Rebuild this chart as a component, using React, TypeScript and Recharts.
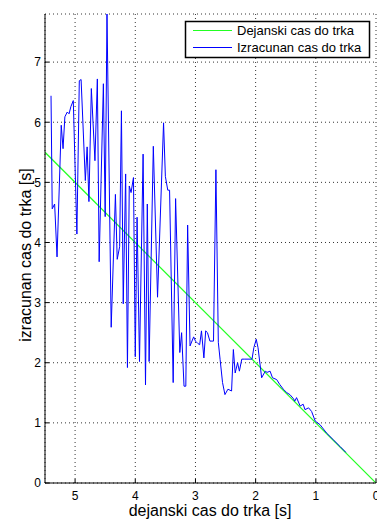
import React from 'react';
import { LineChart, Line, XAxis, YAxis, CartesianGrid, Customized } from 'recharts';

// Actual time to collision [s] (x) for the computed series
const actualTime: number[] = [
  5.40, 5.38, 5.34, 5.30, 5.23, 5.20, 5.17, 5.13, 5.10, 5.07,
  5.03, 4.97, 4.93, 4.90, 4.83, 4.80, 4.77, 4.73, 4.67, 4.63,
  4.60, 4.53, 4.50, 4.47, 4.40, 4.33, 4.30, 4.26, 4.23, 4.20,
  4.16, 4.13, 4.10, 4.07, 4.03, 4.00, 3.97, 3.93, 3.87, 3.83,
  3.80, 3.77, 3.70, 3.63, 3.53, 3.50, 3.46, 3.43, 3.37, 3.33,
  3.26, 3.23, 3.19, 3.16, 3.13, 3.09, 3.03, 3.00, 2.96, 2.93,
  2.90, 2.86, 2.83, 2.80, 2.76, 2.70, 2.66, 2.62, 2.59, 2.55,
  2.51, 2.46, 2.40, 2.37, 2.34, 2.30, 2.27, 2.23, 2.18, 2.06,
  2.03, 1.99, 1.96, 1.90, 1.84, 1.81, 1.76, 1.72, 1.65, 1.60,
  1.54, 1.48, 1.43, 1.37, 1.35, 1.32, 1.26, 1.21, 1.18, 1.12,
  1.07, 1.01, 0.93, 0.82, 0.71, 0.60, 0.50,
];

// Computed time to collision [s] (y)
const computedTime: number[] = [
  6.44, 4.56, 4.64, 3.76, 5.95, 5.56, 6.09, 6.17, 6.14, 6.26,
  6.36, 4.14, 6.69, 6.71, 5.03, 5.59, 4.68, 6.56, 5.36, 6.72,
  3.68, 6.64, 4.43, 7.80, 2.59, 4.80, 3.72, 3.93, 6.19, 2.98,
  5.14, 1.92, 4.94, 4.83, 5.08, 2.10, 4.42, 2.02, 5.47, 1.63,
  4.64, 2.02, 5.60, 3.09, 5.99, 5.10, 4.87, 4.87, 1.67, 4.73,
  2.17, 2.50, 1.61, 1.61, 4.29, 2.28, 2.43, 2.36, 2.32, 2.30,
  2.53, 2.08, 2.53, 2.50, 2.36, 2.36, 5.21, 2.34, 2.05, 1.67,
  1.47, 1.56, 1.53, 2.22, 1.83, 2.00, 1.86, 2.06, 2.06, 2.06,
  2.25, 2.39, 2.25, 1.75, 1.86, 1.84, 1.86, 1.75, 1.72, 1.64,
  1.56, 1.50, 1.47, 1.40, 1.36, 1.42, 1.28, 1.31, 1.22, 1.25,
  1.19, 1.03, 0.97, 0.83, 0.72, 0.61, 0.51,
];

// Actual time line (identity)
const idealX: number[] = [5.5, 0];
const idealY: number[] = [5.5, 0];

const xTicks: number[] = [0, 1, 2, 3, 4, 5];
const yTicks: number[] = [0, 1, 2, 3, 4, 5, 6, 7];

const seriesNames: string[] = ['Dejanski cas do trka', 'Izracunan cas do trka'];
const xLabel = 'dejanski cas do trka [s]';
const yLabel = 'izracunan cas do trka [s]';

const computedData = actualTime.map((x, i) => ({ x, y: computedTime[i] }));
const idealData = idealX.map((x, i) => ({ x, y: idealY[i] }));

const FONT = '"Liberation Sans", Arial, Helvetica, sans-serif';

const XTick = (props: any) => {
  const { x, y, payload } = props;
  return (
    <g>
      <line x1={x} y1={y} x2={x} y2={y - 4} stroke="#000" strokeWidth={1} />
      <text x={x} y={y + 16.5} textAnchor="middle" fontSize={12} fill="#000" fontFamily={FONT}>
        {payload.value}
      </text>
    </g>
  );
};

const YTick = (props: any) => {
  const { x, y, payload } = props;
  return (
    <g>
      <line x1={x} y1={y} x2={x + 4} y2={y} stroke="#000" strokeWidth={1} />
      <text x={x - 4} y={y + 4.3} textAnchor="end" fontSize={12} fill="#000" fontFamily={FONT}>
        {payload.value}
      </text>
    </g>
  );
};

const Extras = () => (
  <g fontFamily={FONT}>
    <text x={210} y={516} textAnchor="middle" fontSize={16} fill="#000">
      {xLabel}
    </text>
    <text
      x={31}
      y={255}
      textAnchor="middle"
      fontSize={16}
      fill="#000"
      transform="rotate(-90 31 255)"
    >
      {yLabel}
    </text>
    <rect x={185.5} y={21.5} width={184} height={36} fill="#fff" stroke="#000" strokeWidth={1.5} />
    <line x1={193} y1={30.5} x2={232} y2={30.5} stroke="#22ff22" strokeWidth={1.2} />
    <line x1={193} y1={47.5} x2={232} y2={47.5} stroke="#0000ff" strokeWidth={1} />
    <text x={237} y={35} fontSize={13} fill="#000">
      {seriesNames[0]}
    </text>
    <text x={237} y={52} fontSize={13} fill="#000">
      {seriesNames[1]}
    </text>
  </g>
);

export default function App() {
  return (
    <div style={{ position: 'absolute', left: 0, top: 0, width: 377, height: 520, background: '#fff' }}>
      <LineChart
        width={377}
        height={520}
        margin={{ top: 14, right: 1, bottom: 0, left: 0 }}
        style={{ fontFamily: FONT }}
      >
        <CartesianGrid stroke="#000" strokeDasharray="1 3" strokeWidth={0.8} />
        <XAxis
          type="number"
          dataKey="x"
          domain={[0, 5.5]}
          reversed
          ticks={xTicks}
          interval={0}
          height={37}
          tickLine={false}
          tickSize={0}
          tickMargin={0}
          axisLine={{ stroke: '#000', strokeWidth: 1 }}
          tick={<XTick />}
          allowDataOverflow
        />
        <YAxis
          type="number"
          dataKey="y"
          domain={[0, 7.8]}
          ticks={yTicks}
          interval={0}
          width={45}
          tickLine={false}
          tickSize={0}
          tickMargin={0}
          axisLine={{ stroke: '#000', strokeWidth: 1 }}
          tick={<YTick />}
          allowDataOverflow
        />
        <Line
          data={idealData}
          dataKey="y"
          type="linear"
          stroke="#22ff22"
          strokeWidth={1.2}
          dot={false}
          isAnimationActive={false}
        />
        <Line
          data={computedData}
          dataKey="y"
          type="linear"
          stroke="#0000ff"
          strokeWidth={1}
          dot={false}
          isAnimationActive={false}
        />
        <Customized component={Extras} />
      </LineChart>
    </div>
  );
}
